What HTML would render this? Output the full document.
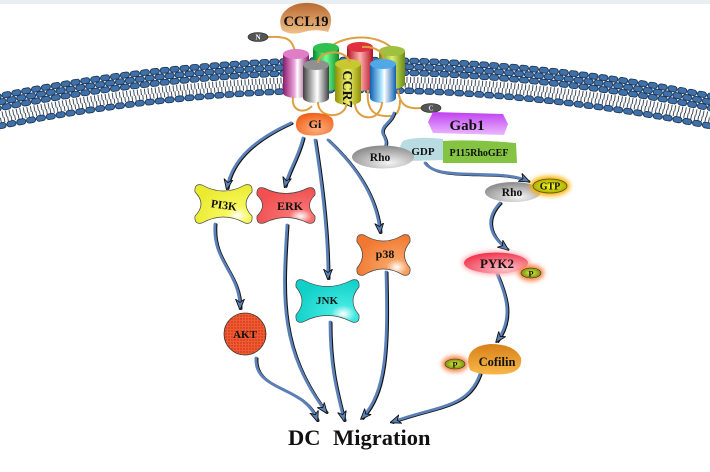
<!DOCTYPE html>
<html><head><meta charset="utf-8"><style>
html,body{margin:0;padding:0;background:#fff;}
svg{display:block;}
text{font-family:"Liberation Serif",serif;font-weight:bold;fill:#111;}
.sh{fill:none;stroke:#111;stroke-width:2.6;stroke-linecap:round;}
.ln{fill:none;stroke:#5b80b8;stroke-width:2.8;stroke-linecap:round;}
.lp{fill:none;stroke:#dda040;stroke-width:2;}
.ho{fill:none;stroke:#1a3558;stroke-width:6.5;stroke-dasharray:3.5 6.5;stroke-linecap:round;}
.hi{fill:none;stroke:#4070a8;stroke-width:4.8;stroke-dasharray:3.5 6.5;stroke-linecap:round;}
.tl{fill:none;stroke:#3e4c5c;stroke-dasharray:1 2.6;}
</style></head><body>
<svg width="710" height="472" viewBox="0 0 710 472" xmlns="http://www.w3.org/2000/svg">
<defs>
<marker id="ah" viewBox="0 0 10 10" refX="8" refY="5" markerWidth="11" markerHeight="11" markerUnits="userSpaceOnUse" orient="auto"><path d="M0,1 L10,5 L0,9 L3,5 Z" fill="#5b80b8" stroke="#111" stroke-width="0.8"/></marker>
<filter id="gl" x="-50%" y="-50%" width="200%" height="200%"><feGaussianBlur stdDeviation="2.5"/></filter>
<linearGradient id="cPink" x1="0" x2="1"><stop offset="0" stop-color="#8a1a6a"/><stop offset="0.45" stop-color="#f0a8e0"/><stop offset="0.55" stop-color="#ffffff"/><stop offset="1" stop-color="#8a1a6a"/></linearGradient>
<linearGradient id="cGreen" x1="0" x2="1"><stop offset="0" stop-color="#0a8a28"/><stop offset="0.5" stop-color="#70ff90"/><stop offset="1" stop-color="#0a8a28"/></linearGradient>
<linearGradient id="cRed" x1="0" x2="1"><stop offset="0" stop-color="#b01020"/><stop offset="0.5" stop-color="#ffb0b0"/><stop offset="1" stop-color="#b01020"/></linearGradient>
<linearGradient id="cOlive" x1="0" x2="1"><stop offset="0" stop-color="#6a8a10"/><stop offset="0.5" stop-color="#d8f070"/><stop offset="1" stop-color="#6a8a10"/></linearGradient>
<linearGradient id="cGray" x1="0" x2="1"><stop offset="0" stop-color="#404040"/><stop offset="0.45" stop-color="#e0e0e0"/><stop offset="0.55" stop-color="#ffffff"/><stop offset="1" stop-color="#404040"/></linearGradient>
<linearGradient id="cYel" x1="0" x2="1"><stop offset="0" stop-color="#909000"/><stop offset="0.5" stop-color="#f0f070"/><stop offset="1" stop-color="#909000"/></linearGradient>
<linearGradient id="cBlue" x1="0" x2="1"><stop offset="0" stop-color="#1060b0"/><stop offset="0.45" stop-color="#b0e8ff"/><stop offset="0.55" stop-color="#ffffff"/><stop offset="1" stop-color="#1060b0"/></linearGradient>
<linearGradient id="gCcl" x1="0" y1="0" x2="0" y2="1"><stop offset="0" stop-color="#b86a30"/><stop offset="1" stop-color="#f0c08a"/></linearGradient>
<radialGradient id="gGi" cx="0.55" cy="0.7" r="0.7"><stop offset="0" stop-color="#ffb080"/><stop offset="1" stop-color="#f06018"/></radialGradient>
<radialGradient id="gRho" cx="0.6" cy="0.75" r="0.7"><stop offset="0" stop-color="#f4f4f4"/><stop offset="1" stop-color="#909090"/></radialGradient>
<linearGradient id="gGab" x1="0" y1="0" x2="0" y2="1"><stop offset="0" stop-color="#c040f0"/><stop offset="1" stop-color="#eab8ff"/></linearGradient>
<radialGradient id="gYel" cx="0.75" cy="0.8" r="0.8"><stop offset="0" stop-color="#ffffff"/><stop offset="0.25" stop-color="#f8f860"/><stop offset="1" stop-color="#eaea30"/></radialGradient>
<radialGradient id="gErk" cx="0.75" cy="0.8" r="0.8"><stop offset="0" stop-color="#ffffff"/><stop offset="0.25" stop-color="#f87070"/><stop offset="1" stop-color="#f05050"/></radialGradient>
<radialGradient id="gP38" cx="0.75" cy="0.8" r="0.8"><stop offset="0" stop-color="#ffffff"/><stop offset="0.25" stop-color="#f8a060"/><stop offset="1" stop-color="#f07830"/></radialGradient>
<radialGradient id="gJnk" cx="0.75" cy="0.8" r="0.8"><stop offset="0" stop-color="#ffffff"/><stop offset="0.25" stop-color="#40e8e0"/><stop offset="1" stop-color="#10d0c8"/></radialGradient>
<radialGradient id="gPyk" cx="0.65" cy="0.8" r="0.8"><stop offset="0" stop-color="#ffc0c8"/><stop offset="1" stop-color="#f03850"/></radialGradient>
<linearGradient id="gCof" x1="0" y1="0" x2="0" y2="1"><stop offset="0" stop-color="#d8801a"/><stop offset="1" stop-color="#f8b848"/></linearGradient>
<radialGradient id="gP" cx="0.5" cy="0.5" r="0.6"><stop offset="0" stop-color="#e0f040"/><stop offset="1" stop-color="#6a7a08"/></radialGradient>
<radialGradient id="gGtp" cx="0.5" cy="0.5" r="0.6"><stop offset="0" stop-color="#f8f820"/><stop offset="1" stop-color="#a0a000"/></radialGradient>
<pattern id="dots" width="3" height="3" patternUnits="userSpaceOnUse"><rect width="3" height="3" fill="#f05a30"/><circle cx="1" cy="1" r="0.7" fill="#c02818"/></pattern>
</defs>

<rect x="0" y="0" width="710" height="4" fill="#e9eef3"/>

<!-- membrane -->
<g>
  <path class="ho" d="M-5,97 Q355,23 715,97"/>
  <path class="hi" d="M-5,97 Q355,23 715,97"/>
  <path class="ho" style="stroke-dashoffset:5" d="M-5,103 Q355,29 715,103"/>
  <path class="hi" style="stroke-dashoffset:5" d="M-5,103 Q355,29 715,103"/>
  <path class="ho" d="M-5,109 Q355,35 715,109"/>
  <path class="hi" d="M-5,109 Q355,35 715,109"/>
  <path class="tl" style="stroke-width:6" d="M-5,116 Q355,42 715,116"/>
  <path class="tl" style="stroke-width:5;stroke-dashoffset:1.7" d="M-5,121.5 Q355,47.5 715,121.5"/>
  <path class="ho" style="stroke-dashoffset:5" d="M-5,127 Q355,53 715,127"/>
  <path class="hi" style="stroke-dashoffset:5" d="M-5,127 Q355,53 715,127"/>
</g>

<!-- CCL19 -->
<path d="M282,30 Q277,18 286,10 Q295,2 310,3 Q325,4 330,14 Q333,22 328,32 Q315,28 300,33 Q288,35 282,30 Z" fill="url(#gCcl)"/>
<text x="306" y="26" font-size="14.5" text-anchor="middle">CCL19</text>

<!-- top loops -->
<path class="lp" d="M268,37 C285,36 293,38 295,53"/>
<path class="lp" d="M330,47 C345,35 377,33 393,49"/>

<!-- back cylinders -->
<path d="M283,54 L283,93 A13,5 0 0 0 309,93 L309,54 Z" fill="url(#cPink)"/><ellipse cx="296" cy="54" rx="13" ry="5" fill="#e07cc8"/>
<path d="M313,48 L313,86 A13,5 0 0 0 339,86 L339,48 Z" fill="url(#cGreen)"/><ellipse cx="326" cy="48" rx="13" ry="5" fill="#30c050"/>
<path d="M347,47 L347,86 A13,5 0 0 0 373,86 L373,47 Z" fill="url(#cRed)"/><ellipse cx="360" cy="47" rx="13" ry="5" fill="#e03040"/>
<path d="M379,51 L379,84 A13,5 0 0 0 405,84 L405,51 Z" fill="url(#cOlive)"/><ellipse cx="392" cy="51" rx="13" ry="5" fill="#a0c040"/>
<path class="lp" d="M362,47 C375,46 385,52 384,62"/>

<!-- front cylinders -->
<path d="M303,65 L303,98 A13,5 0 0 0 329,98 L329,65 Z" fill="url(#cGray)"/><ellipse cx="316" cy="65" rx="13" ry="5" fill="#909090"/>
<path d="M335,64 L335,100 A13,5 0 0 0 361,100 L361,64 Z" fill="url(#cYel)"/><ellipse cx="348" cy="64" rx="13" ry="5" fill="#c8c830"/>
<path d="M370,64 L370,98 A13,5 0 0 0 396,98 L396,64 Z" fill="url(#cBlue)"/><ellipse cx="383" cy="64" rx="13" ry="5" fill="#50a8e8"/>
<path class="lp" d="M318,63 C318,50 345,48 350,62"/>
<text x="0" y="0" font-size="14" text-anchor="middle" transform="translate(343,89) rotate(90)">CCR7</text>

<!-- bottom loops -->
<path class="lp" d="M293,97 C291,112 305,114 312,106"/>
<path class="lp" d="M318,102 C318,116 335,118 342,112 C347,108 346,105 346,104"/>
<path class="lp" d="M355,104 C356,118 372,121 378,113 C382,108 382,104 382,102"/>
<path class="lp" d="M368,90 C366,110 374,117 390,116 C398,116 400,108 400,100"/>
<path class="lp" d="M398,90 C400,108 410,109 422,108"/>

<!-- N and C -->
<ellipse cx="258" cy="37" rx="10" ry="4.5" fill="#555" stroke="#222" stroke-width="0.6"/>
<text x="258" y="39.5" font-size="7" text-anchor="middle" style="fill:#fff">N</text>
<ellipse cx="431" cy="108" rx="10" ry="4.5" fill="#555" stroke="#222" stroke-width="0.6"/>
<text x="431" y="110.5" font-size="7" text-anchor="middle" style="fill:#ddd">C</text>

<!-- Gi -->
<path d="M296,126 Q295,114 310,113 Q325,112 332,118 Q336,126 330,132 Q320,137 306,135 Q297,133 296,126 Z" fill="url(#gGi)"/>
<text x="315" y="128" font-size="12" text-anchor="middle">Gi</text>

<!-- squiggle to Rho -->
<path class="sh" transform="translate(1,0.5)" d="M394,113 C392,122 380,126 383,134 C386,140 387,143 385,147"/>
<path class="ln" d="M394,113 C392,122 380,126 383,134 C386,140 387,143 385,147"/>

<!-- Gab1 -->
<path d="M433,112 L503,114 L508,124 L504,135 L433,133 L428,122 Z" fill="url(#gGab)"/>
<text x="467" y="130" font-size="15" text-anchor="middle">Gab1</text>

<!-- GDP, P115RhoGEF -->
<path d="M405,140 Q420,136 443,139 L443,160 L410,161 Q400,158 400,150 Q400,142 405,140 Z" fill="#b8dce2"/>
<path d="M443,141 Q470,139 516,143 L517,163 L443,163 Z" fill="#84c442"/>
<text x="479" y="156" font-size="10" text-anchor="middle">P115RhoGEF</text>
<ellipse cx="383" cy="157" rx="31" ry="11.5" fill="url(#gRho)"/>
<text x="380" y="161" font-size="11.5" text-anchor="middle">Rho</text>
<text x="423" y="155" font-size="11" text-anchor="middle">GDP</text>

<!-- connectors -->
<g>
<path class="sh" transform="translate(1.2,0.6)" d="M291,123 C258,138 232,158 227,188"/>
<path class="ln" marker-end="url(#ah)" d="M291,123 C258,138 232,158 227,188"/>
<path class="sh" transform="translate(1.2,0.6)" d="M303,138 C298,158 289,170 285,186"/>
<path class="ln" marker-end="url(#ah)" d="M303,138 C298,158 289,170 285,186"/>
<path class="sh" transform="translate(1.2,0.6)" d="M315,140 C323,190 328,235 328,278"/>
<path class="ln" marker-end="url(#ah)" d="M315,140 C323,190 328,235 328,278"/>
<path class="sh" transform="translate(1.2,0.6)" d="M328,140 C358,168 377,198 380,232"/>
<path class="ln" marker-end="url(#ah)" d="M328,140 C358,168 377,198 380,232"/>
<path class="sh" transform="translate(1.2,0.6)" d="M215,224 C212,262 240,272 240,308"/>
<path class="ln" marker-end="url(#ah)" d="M215,224 C212,262 240,272 240,308"/>
<path class="sh" transform="translate(1.2,0.6)" d="M256,358 C254,392 305,385 317,420"/>
<path class="ln" marker-end="url(#ah)" d="M256,358 C254,392 305,385 317,420"/>
<path class="sh" transform="translate(1.2,0.6)" d="M287,225 C282,300 280,350 326,412"/>
<path class="ln" marker-end="url(#ah)" d="M287,225 C282,300 280,350 326,412"/>
<path class="sh" transform="translate(1.2,0.6)" d="M330,322 C330,370 338,395 344,420"/>
<path class="ln" marker-end="url(#ah)" d="M330,322 C330,370 338,395 344,420"/>
<path class="sh" transform="translate(1.2,0.6)" d="M386,272 C388,350 386,392 362,418"/>
<path class="ln" marker-end="url(#ah)" d="M386,272 C388,350 386,392 362,418"/>
<path class="sh" transform="translate(1.2,0.6)" d="M480,374 C468,408 440,405 392,422"/>
<path class="ln" marker-end="url(#ah)" d="M480,374 C468,408 440,405 392,422"/>
<path class="sh" transform="translate(1.2,0.6)" d="M425,163 C438,182 500,168 528,181"/>
<path class="ln" marker-end="url(#ah)" d="M425,163 C438,182 500,168 528,181"/>
<path class="sh" transform="translate(1.2,0.6)" d="M500,203 C484,220 490,236 507,249"/>
<path class="ln" marker-end="url(#ah)" d="M500,203 C484,220 490,236 507,249"/>
<path class="sh" transform="translate(1.2,0.6)" d="M497,274 C506,295 514,318 497,341"/>
<path class="ln" marker-end="url(#ah)" d="M497,274 C506,295 514,318 497,341"/>
</g>

<!-- kinase nodes -->
<path d="M202,185 Q223.5,197 245,185 Q253,183 252,192 Q240,204 252,216 Q253,225 245,223 Q223.5,211 202,223 Q194,225 195,216 Q207,204 195,192 Q194,183 202,185 Z" fill="url(#gYel)" stroke="#444" stroke-width="0.7"/>
<text x="224" y="209" font-size="11.5" text-anchor="middle" transform="rotate(8 224 205)">PI3K</text>
<path d="M264,188 Q286,199 308,188 Q316,186 315,195 Q304,205.5 315,216 Q316,225 308,223 Q286,212 264,223 Q256,225 257,216 Q268,205.5 257,195 Q256,186 264,188 Z" fill="url(#gErk)" stroke="#444" stroke-width="0.7"/>
<text x="290" y="210" font-size="12" text-anchor="middle">ERK</text>
<path d="M364,235 Q383.5,247 403,235 Q411,233 410,242 Q399,255 410,268 Q411,277 403,275 Q383.5,263 364,275 Q356,277 357,268 Q368,255 357,242 Q356,233 364,235 Z" fill="url(#gP38)" stroke="#444" stroke-width="0.7"/>
<text x="385" y="258" font-size="12" text-anchor="middle">p38</text>
<path d="M303,280 Q327.5,293 352,280 Q360,278 359,287 Q347,301 359,315 Q360,324 352,322 Q327.5,309 303,322 Q295,324 296,315 Q308,301 296,287 Q295,278 303,280 Z" fill="url(#gJnk)" stroke="#444" stroke-width="0.7"/>
<text x="327" y="304" font-size="11" text-anchor="middle">JNK</text>
<circle cx="245" cy="334" r="21" fill="url(#dots)" stroke="#333" stroke-width="0.8"/>
<text x="245" y="338" font-size="11" text-anchor="middle">AKT</text>

<!-- right pathway -->
<ellipse cx="513" cy="192" rx="28" ry="10" fill="url(#gRho)"/>
<text x="512" y="196" font-size="11.5" text-anchor="middle">Rho</text>
<ellipse cx="550" cy="186" rx="20" ry="10" fill="#ffb000" filter="url(#gl)"/>
<ellipse cx="550" cy="186" rx="17" ry="7" fill="url(#gGtp)" stroke="#505000" stroke-width="0.8"/>
<text x="550" y="189.5" font-size="10" text-anchor="middle">GTP</text>

<ellipse cx="496" cy="263" rx="34" ry="12" fill="#ffb0b8" filter="url(#gl)"/>
<ellipse cx="496" cy="263" rx="32" ry="10.5" fill="url(#gPyk)"/>
<text x="497" y="268" font-size="13" text-anchor="middle">PYK2</text>
<ellipse cx="531" cy="273" rx="13" ry="8" fill="#ff8040" filter="url(#gl)"/>
<ellipse cx="531" cy="273" rx="10" ry="5" fill="url(#gP)" stroke="#333" stroke-width="0.6"/>
<text x="531" y="276.5" font-size="8.5" text-anchor="middle">P</text>

<path d="M468,362 Q468,346 490,344 Q515,344 521,358 Q523,372 505,374 Q480,376 470,370 Z" fill="url(#gCof)"/>
<text x="497" y="366" font-size="12.5" text-anchor="middle">Cofilin</text>
<ellipse cx="455" cy="364" rx="13" ry="8" fill="#ff8040" filter="url(#gl)"/>
<ellipse cx="455" cy="364" rx="10" ry="5" fill="url(#gP)" stroke="#333" stroke-width="0.6"/>
<text x="455" y="367.5" font-size="8.5" text-anchor="middle">P</text>

<!-- DC Migration -->
<text x="288" y="445" font-size="22.5">DC</text>
<text x="333" y="445" font-size="22.5">Migration</text>
</svg>
</body></html>
